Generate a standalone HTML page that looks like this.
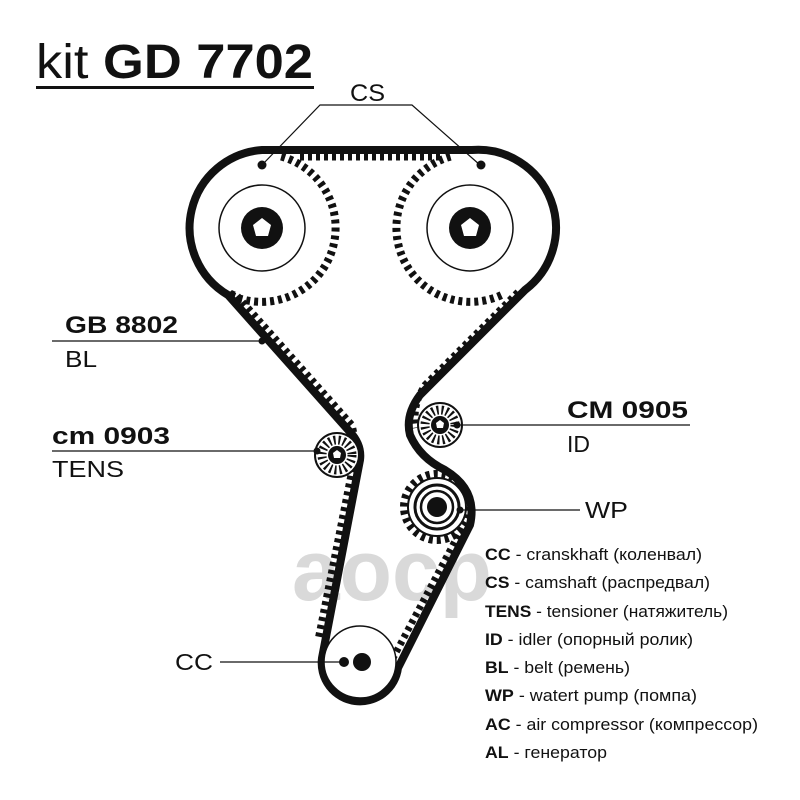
<!DOCTYPE html>
<html><head><meta charset="utf-8"><style>
html,body{margin:0;padding:0;background:#fff}
svg{display:block}
text{font-family:"Liberation Sans",sans-serif;fill:#111}
.b{font-weight:bold}
</style></head><body>
<svg width="800" height="800" viewBox="0 0 800 800" xmlns="http://www.w3.org/2000/svg">
<text x="292" y="600" font-size="86" font-weight="bold" style="fill:#d9d9d9" textLength="200" lengthAdjust="spacingAndGlyphs">aocp</text>
<!-- title -->
<text x="36" y="78" font-size="48" textLength="277" lengthAdjust="spacingAndGlyphs">kit <tspan class="b">GD 7702</tspan></text>
<rect x="36" y="86" width="278" height="3" fill="#111"/>
<!-- pulley teeth -->
<g fill="none" stroke="#111" stroke-width="8" stroke-dasharray="4 4">
<path d="M281.2 156.5 A74 74 0 1 1 230.7 295.1"/>
<path d="M501.3 295.1 A74 74 0 1 1 450.8 156.5"/>
<circle cx="437" cy="507" r="33"/>
</g>
<!-- belt teeth on straight runs -->
<g fill="none" stroke="#111" stroke-width="7" stroke-dasharray="4 4">
<path d="M232 290 L352 425 Q356 440 354 460 L318 640"/>
<path d="M518 292 L425 385 Q412 405 416 428"/>
<path d="M462 528 L392 660"/>
<path d="M300 157 L440 157"/>
</g>
<!-- pulley faces -->
<circle cx="262" cy="228" r="69" fill="#fff"/>
<circle cx="470" cy="228" r="69" fill="#fff"/>
<circle cx="262" cy="228" r="43" fill="none" stroke="#111" stroke-width="1.5"/>
<circle cx="470" cy="228" r="43" fill="none" stroke="#111" stroke-width="1.5"/>
<circle cx="262" cy="228" r="21" fill="#111"/>
<circle cx="470" cy="228" r="21" fill="#111"/>
<polygon points="262,218 271,225 268,236 256,236 253,225" fill="#fff"/>
<polygon points="470,218 479,225 476,236 464,236 461,225" fill="#fff"/>
<!-- belt -->
<path d="M262 150 L472 150 A78 78 0 0 1 525 290 L420 395 Q405 415 410 435 Q420 458 445 470 Q478 490 470 525 L398 668 A38 38 0 0 1 322 658 L360 460 Q362 445 350 432 L228 295 A78 78 0 0 1 262 150 Z" fill="none" stroke="#111" stroke-width="8" stroke-linejoin="round"/>
<!-- tensioner -->
<circle cx="337" cy="455" r="22" fill="#fff" stroke="#111" stroke-width="2"/>
<circle cx="337" cy="455" r="15" fill="none" stroke="#111" stroke-width="9" stroke-dasharray="2 2.8"/>
<circle cx="337" cy="455" r="9" fill="#111"/>
<polygon points="337,450 341,453 340,458 334,458 333,453" fill="#fff"/>
<!-- idler -->
<circle cx="440" cy="425" r="22" fill="#fff" stroke="#111" stroke-width="2"/>
<circle cx="440" cy="425" r="15" fill="none" stroke="#111" stroke-width="9" stroke-dasharray="2 2.8"/>
<circle cx="440" cy="425" r="9" fill="#111"/>
<polygon points="440,420 444,423 443,428 437,428 436,423" fill="#fff"/>
<!-- water pump -->
<circle cx="437" cy="507" r="29" fill="#fff" stroke="#111" stroke-width="2"/>
<circle cx="437" cy="507" r="22" fill="none" stroke="#111" stroke-width="3"/>
<circle cx="437" cy="507" r="16" fill="none" stroke="#111" stroke-width="2.5"/>
<circle cx="437" cy="507" r="10" fill="#111"/>
<!-- crank -->
<circle cx="360" cy="662" r="36" fill="#fff"/>
<circle cx="360" cy="662" r="36" fill="none" stroke="#111" stroke-width="1.5"/>
<circle cx="344" cy="662" r="5" fill="#111"/>
<circle cx="362" cy="662" r="9" fill="#111"/>
<!-- leaders -->
<g stroke="#111" stroke-width="1.2" fill="none">
<polyline points="262,165 320,105 412,105 480,165"/>
<line x1="52" y1="341" x2="262" y2="341"/>
<line x1="52" y1="451" x2="317" y2="451"/>
<line x1="455" y1="425" x2="690" y2="425"/>
<line x1="460" y1="510" x2="580" y2="510"/>
<line x1="220" y1="662" x2="340" y2="662"/>
</g>
<circle cx="262" cy="165" r="4.5" fill="#111"/>
<circle cx="481" cy="165" r="4.5" fill="#111"/>
<circle cx="262" cy="341" r="3.5" fill="#111"/>
<circle cx="317" cy="451" r="3.5" fill="#111"/>
<circle cx="457" cy="425" r="3.5" fill="#111"/>
<circle cx="460" cy="510" r="3.5" fill="#111"/>
<!-- labels -->
<g lengthAdjust="spacingAndGlyphs">
<text x="350" y="101" font-size="24" textLength="35" lengthAdjust="spacingAndGlyphs">CS</text>
<text x="65" y="333" font-size="24" class="b" textLength="113" lengthAdjust="spacingAndGlyphs">GB 8802</text>
<text x="65" y="367" font-size="23" textLength="32" lengthAdjust="spacingAndGlyphs">BL</text>
<text x="52" y="444" font-size="24" class="b" textLength="118" lengthAdjust="spacingAndGlyphs">cm 0903</text>
<text x="52" y="477" font-size="23" textLength="72" lengthAdjust="spacingAndGlyphs">TENS</text>
<text x="567" y="418" font-size="24" class="b" textLength="121" lengthAdjust="spacingAndGlyphs">CM 0905</text>
<text x="567" y="452" font-size="23" textLength="23" lengthAdjust="spacingAndGlyphs">ID</text>
<text x="585" y="518" font-size="23" textLength="43" lengthAdjust="spacingAndGlyphs">WP</text>
<text x="175" y="670" font-size="23" textLength="38" lengthAdjust="spacingAndGlyphs">CC</text>
</g>
<g font-size="17">
<text x="485" y="560" textLength="217" lengthAdjust="spacingAndGlyphs"><tspan class="b">CC</tspan> - cranskhaft (коленвал)</text>
<text x="485" y="588" textLength="225" lengthAdjust="spacingAndGlyphs"><tspan class="b">CS</tspan> - camshaft (распредвал)</text>
<text x="485" y="617" textLength="243" lengthAdjust="spacingAndGlyphs"><tspan class="b">TENS</tspan> - tensioner (натяжитель)</text>
<text x="485" y="645" textLength="208" lengthAdjust="spacingAndGlyphs"><tspan class="b">ID</tspan> - idler (опорный ролик)</text>
<text x="485" y="673" textLength="145" lengthAdjust="spacingAndGlyphs"><tspan class="b">BL</tspan> - belt (ремень)</text>
<text x="485" y="701" textLength="212" lengthAdjust="spacingAndGlyphs"><tspan class="b">WP</tspan> - watert pump (помпа)</text>
<text x="485" y="730" textLength="273" lengthAdjust="spacingAndGlyphs"><tspan class="b">AC</tspan> - air compressor (компрессор)</text>
<text x="485" y="758" textLength="122" lengthAdjust="spacingAndGlyphs"><tspan class="b">AL</tspan> - генератор</text>
</g>
</svg>
</body></html>
